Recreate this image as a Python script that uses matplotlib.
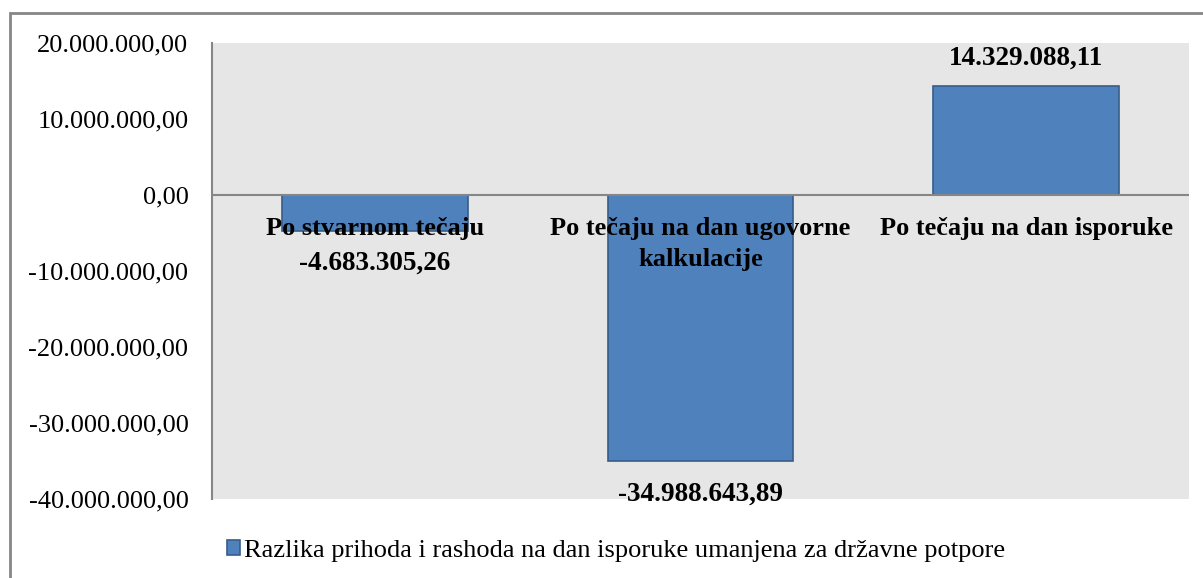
import matplotlib.pyplot as plt
from matplotlib.patches import Rectangle
from matplotlib.ticker import FuncFormatter

categories = ['Po stvarnom tečaju', 'Po tečaju na dan ugovorne\nkalkulacije', 'Po tečaju na dan isporuke']
values = [-4683305.26, -34988643.89, 14329088.11]
y_ticks = [-40000000, -30000000, -20000000, -10000000, 0, 10000000, 20000000]
legend_label = 'Razlika prihoda i rashoda na dan isporuke umanjena za državne potpore'

plt.rcParams['font.family'] = ['Liberation Serif', 'DejaVu Serif']


def hr_fmt(v, pos=None):
    s = f'{abs(v):,.2f}'.replace(',', 'X').replace('.', ',').replace('X', '.')
    return ('-' if v < 0 else '') + s


W, H = 1203, 578
fig = plt.figure(figsize=(W / 100, H / 100), dpi=100)
ax = fig.add_axes([212 / W, (H - 499) / H, (1189 - 212) / W, (499 - 43) / H])

# outer chart border
fig.patches.append(Rectangle((10 / W, -0.1), 1.2, (H - 13) / H + 0.1, transform=fig.transFigure,
                             fill=False, edgecolor='#868686', linewidth=2))

ax.set_facecolor('#e6e6e6')
x = range(len(values))
ax.bar(x, values, width=0.57, color='#4f81bd', edgecolor='#385d8a', linewidth=1.2, zorder=2,
       label=legend_label)
ax.axhline(0, color='#868686', linewidth=1.5, zorder=3)

ax.set_xlim(-0.5, len(values) - 0.5)
ax.set_ylim(-40000000, 20000000)
ax.set_yticks(y_ticks)
ax.yaxis.set_major_formatter(FuncFormatter(hr_fmt))
ax.tick_params(axis='y', length=0, pad=17, labelsize=19)
ax.set_xticks([])
for s in ['top', 'right', 'bottom']:
    ax.spines[s].set_visible(False)
ax.spines['left'].set_color('#868686')
ax.spines['left'].set_linewidth(1.5)

# category labels sit just under the zero line
for i, c in enumerate(categories):
    ax.annotate(c, (i, 0), xytext=(0, -22), textcoords='offset pixels', ha='center', va='top',
                fontsize=19, fontweight='bold', linespacing=1.45, zorder=4)

# value labels
for i, v in enumerate(values):
    off = 28 if v > 0 else -33
    ax.annotate(hr_fmt(v), (i, v), xytext=(0, off), textcoords='offset pixels', ha='center',
                va='center', fontsize=19.5, fontweight='bold', zorder=4, annotation_clip=False)

leg = ax.legend(loc='center', frameon=False, fontsize=19, handlelength=0.5, handleheight=0.5,
                handletextpad=0.15)
leg.set_bbox_to_anchor((616 / W, (H - 551) / H), transform=fig.transFigure)

fig.savefig('out.png', dpi=100)
